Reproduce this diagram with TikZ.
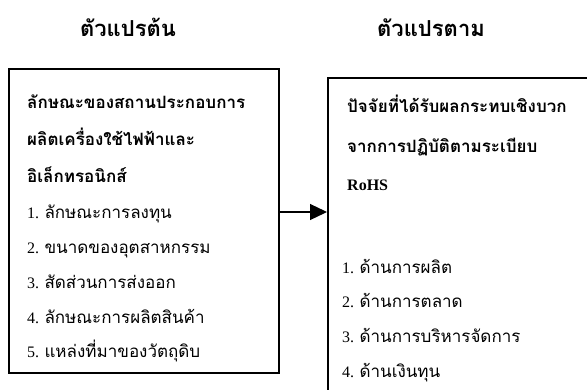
\documentclass[tikz,border=0pt]{standalone}
\usepackage{fontspec}
\setmainfont{Liberation Serif}
\newfontfamily\thai[Script=Thai]{Loma}
\usetikzlibrary{arrows.meta}
\tikzset{
  box/.style={draw, line width=1.5pt, rectangle, inner sep=0pt, anchor=north west},
  head/.style={font=\thai\bfseries\fontsize{22}{22}\selectfont, anchor=base, inner sep=0pt},
  bline/.style={font=\thai\bfseries\fontsize{17}{17}\selectfont, anchor=base west, inner sep=0pt},
  nline/.style={font=\fontsize{16}{16}\selectfont, anchor=base west, inner sep=0pt},
  link/.style={line width=1.3pt, -{Triangle[length=17pt,width=16pt]}}
}
\begin{document}
\begin{tikzpicture}[x=1pt,y=-1pt]
\useasboundingbox (0,0) rectangle (587,389);
\node[head] (h1) at (128,36) {ตัวแปรต้น};
\node[head] (h2) at (431,36) {ตัวแปรตาม};
\node[box, minimum width=270pt, minimum height=304pt] (lbox) at (8,68) {};
\node[box, minimum width=300pt, minimum height=350pt] (rbox) at (327,77) {};
% left texts
\node[bline] (l1) at (27,108) {ลักษณะของสถานประกอบการ};
\node[bline] (l2) at (27,145) {ผลิตเครื่องใช้ไฟฟ้าและ};
\node[bline] (l3) at (27,182) {อิเล็กทรอนิกส์};
\node[nline] (l4) at (27,218) {1. {\thai\fontsize{17}{17}\selectfont ลักษณะการลงทุน}};
\node[nline] (l5) at (27,253) {2. {\thai\fontsize{17}{17}\selectfont ขนาดของอุตสาหกรรม}};
\node[nline] (l6) at (27,288) {3. {\thai\fontsize{17}{17}\selectfont สัดส่วนการส่งออก}};
\node[nline] (l7) at (27,323) {4. {\thai\fontsize{17}{17}\selectfont ลักษณะการผลิตสินค้า}};
\node[nline] (l8) at (27,357) {5. {\thai\fontsize{17}{17}\selectfont แหล่งที่มาของวัตถุดิบ}};
% right texts
\node[bline] (r1) at (347,112) {ปัจจัยที่ได้รับผลกระทบเชิงบวก};
\node[bline] (r2) at (347,152) {จากการปฏิบัติตามระเบียบ};
\node[nline, font=\bfseries\fontsize{16}{16}\selectfont] (r3) at (347,190) {RoHS};
\node[nline] (r4) at (342,273) {1. {\thai\fontsize{17}{17}\selectfont ด้านการผลิต}};
\node[nline] (r5) at (342,307) {2. {\thai\fontsize{17}{17}\selectfont ด้านการตลาด}};
\node[nline] (r6) at (342,342) {3. {\thai\fontsize{17}{17}\selectfont ด้านการบริหารจัดการ}};
\node[nline] (r7) at (342,377) {4. {\thai\fontsize{17}{17}\selectfont ด้านเงินทุน}};
\coordinate (ay) at (0,212);
\draw[link] (lbox.east |- ay) -- (rbox.west |- ay);
\end{tikzpicture}
\end{document}
